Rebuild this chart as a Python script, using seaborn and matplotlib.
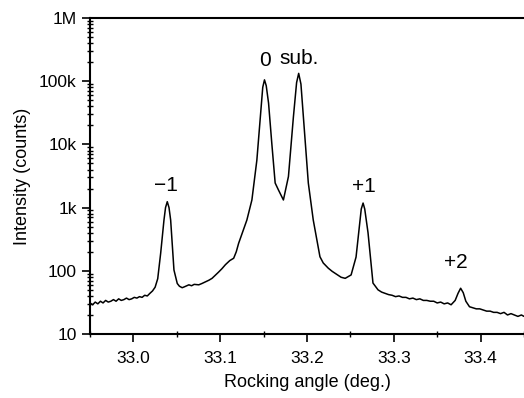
import seaborn as sns
import matplotlib.pyplot as plt
import pandas as pd
from matplotlib import ticker

# rocking curve (deg, counts)
angle = [
    32.950, 32.953, 32.956, 32.959, 32.962, 32.965, 32.968, 32.971, 32.974, 32.977,
    32.980, 32.983, 32.986, 32.989, 32.992, 32.995, 32.998, 33.001, 33.004, 33.007,
    33.010, 33.013, 33.016, 33.019, 33.022, 33.025, 33.028, 33.0314, 33.0352, 33.037,
    33.039, 33.041, 33.0429, 33.0467, 33.0505, 33.053, 33.0562, 33.059, 33.0639, 33.067,
    33.070, 33.0753, 33.079, 33.083, 33.087, 33.0906, 33.094, 33.098, 33.102, 33.106,
    33.1078, 33.111, 33.1155, 33.1185, 33.1212, 33.126, 33.1307, 33.1365, 33.1422, 33.1468,
    33.149, 33.151, 33.153, 33.1557, 33.1594, 33.1633, 33.1671, 33.1728, 33.1786, 33.1843,
    33.188, 33.1904, 33.193, 33.1958, 33.2015, 33.2072, 33.2149, 33.2187, 33.2245, 33.229,
    33.233, 33.2393, 33.244, 33.2508, 33.2565, 33.2607, 33.2625, 33.2646, 33.2665, 33.2703,
    33.276, 33.2818, 33.286, 33.290, 33.294, 33.298, 33.302, 33.306, 33.310, 33.314,
    33.318, 33.322, 33.326, 33.330, 33.334, 33.338, 33.342, 33.346, 33.350, 33.354,
    33.358, 33.362, 33.366, 33.3707, 33.374, 33.377, 33.380, 33.383, 33.3872, 33.391,
    33.395, 33.399, 33.403, 33.407, 33.411, 33.415, 33.419, 33.423, 33.427, 33.431,
    33.435, 33.439, 33.443, 33.447, 33.450,
]
counts = [
    31, 29, 32, 30, 33, 31, 34, 32, 33, 35,
    33, 36, 34, 35, 37, 35, 36, 38, 37, 39,
    38, 41, 40, 44, 48, 55, 75, 190, 635, 1000,
    1240, 1000, 635, 103, 63, 57, 54, 56, 60, 58,
    61, 60, 63, 67, 71, 76, 84, 95, 108, 125,
    132, 145, 158, 200, 272, 420, 635, 1320, 5600, 35000,
    80000, 105000, 85000, 45000, 10500, 2450, 1900, 1320, 3100, 27000,
    95000, 133000, 90000, 27000, 2450, 635, 167, 133, 110, 98,
    90, 79, 76, 86, 165, 570, 950, 1180, 950, 400,
    64, 50, 46, 44, 42, 41, 39, 40, 38, 38,
    36, 37, 35, 36, 34, 34, 33, 33, 31, 32,
    30, 31, 29, 34, 44, 53, 45, 33, 27, 26,
    25, 25, 24, 23, 23, 22, 22, 21, 22, 20,
    21, 20, 19, 20, 19,
]

peak_names = ["\u22121", "0", "sub.", "+1", "+2"]
label_angle = [33.038, 33.152, 33.191, 33.266, 33.372]
label_counts = [1600, 150000, 160000, 1500, 95]

df = pd.DataFrame({"angle": angle, "counts": counts})

sns.set_style("ticks")
plt.rcParams["font.family"] = ["Liberation Sans Narrow", "Liberation Sans", "DejaVu Sans"]
plt.rcParams["text.color"] = "black"
plt.rcParams["axes.labelcolor"] = "black"

fig = plt.figure(figsize=(5.24, 3.98), dpi=100)
ax = fig.add_axes([0.1718, 0.1608, 0.8282, 0.794])

sns.lineplot(data=df, x="angle", y="counts", color="black", linewidth=1.1,
             sort=False, estimator=None, ax=ax)

ax.set_yscale("log")
ax.set_xlim(32.95, 33.45)
ax.set_ylim(10, 1e6)

ax.set_yticks([10, 100, 1e3, 1e4, 1e5, 1e6], ["10", "100", "1k", "10k", "100k", "1M"])
ax.yaxis.set_minor_locator(ticker.LogLocator(base=10, subs=range(2, 10)))
ax.yaxis.set_minor_formatter(ticker.NullFormatter())
ax.set_xticks([33.0, 33.1, 33.2, 33.3, 33.4], ["33.0", "33.1", "33.2", "33.3", "33.4"])
ax.xaxis.set_minor_locator(ticker.MultipleLocator(0.05))

ax.tick_params(which="major", direction="out", length=6, width=1.2, labelsize=12.5,
               colors="black")
ax.tick_params(which="minor", direction="inout", length=4, width=1.0, colors="black")
ax.tick_params(axis="x", pad=6)

for side in ["left", "bottom", "top"]:
    ax.spines[side].set_linewidth(1.5)
    ax.spines[side].set_color("black")
ax.spines["right"].set_visible(False)

ax.set_xlabel("Rocking angle (deg.)", fontsize=13, labelpad=6)
ax.set_ylabel("Intensity (counts)", fontsize=13, labelpad=6)

for name, x, y in zip(peak_names, label_angle, label_counts):
    ax.text(x, y, name, ha="center", va="bottom", fontsize=15, color="black")

fig.savefig("out.png", dpi=100)
